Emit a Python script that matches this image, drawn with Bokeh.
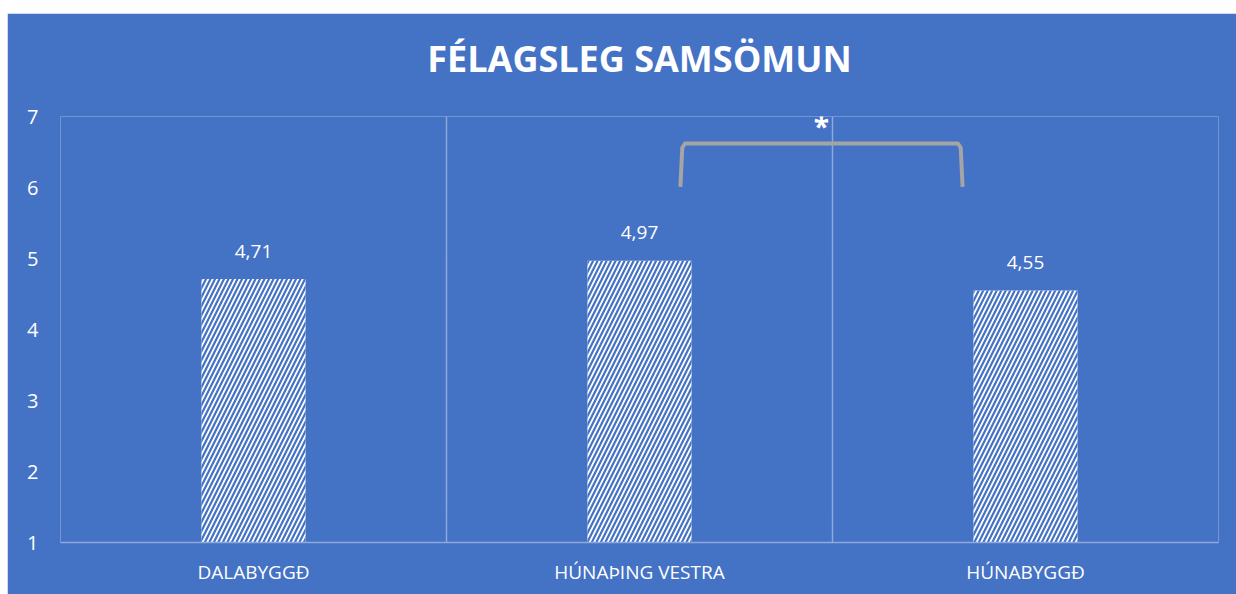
from bokeh.plotting import figure
from bokeh.models import FixedTicker, Spacer, Title
from bokeh.layouts import column, row
from bokeh.core.properties import value
from bokeh.embed import file_html
from bokeh.resources import INLINE

# ---- data ----
categories = ["DALABYGGÐ", "HÚNAÞING VESTRA", "HÚNABYGGÐ"]
means = [4.71, 4.97, 4.55]
mean_labels = ["4,71", "4,97", "4,55"]
y_ticks = [1, 2, 3, 4, 5, 6, 7]
title_text = "FÉLAGSLEG SAMSÖMUN"
sig_marker = "*"
# significance bracket between category 2 and 3 (in category units / value units)
bracket_left = 1.606
bracket_right = 2.337
bracket_bottom = 6.01
bracket_top = 6.62

BLUE = "#4472C4"
GRID = "#8EA9DB"
FONT = "Open Sans"

x_pos = [i + 0.5 for i in range(len(categories))]

p = figure(width=1229, height=581, x_range=(0, len(categories)), y_range=(1, 7),
           output_backend="svg", toolbar_location=None,
           min_border_left=53, min_border_right=18, min_border_top=103, min_border_bottom=52)

p.background_fill_color = BLUE
p.border_fill_color = BLUE
p.outline_line_color = None

p.title.text = title_text
p.title.align = "center"
p.title.text_color = "white"
p.title.text_font = FONT
p.title.text_font_size = "36px"
p.title.text_font_style = "bold"

gap_title = Title(text=" ", text_font_size="16px", text_color=BLUE)
p.above = [gap_title] + list(p.above)

# grids
p.ygrid.visible = False
p.xgrid.ticker = FixedTicker(ticks=list(range(len(categories) + 1)))
p.xgrid.grid_line_color = GRID
p.xgrid.grid_line_width = 1.5

# axes
p.xaxis.ticker = FixedTicker(ticks=x_pos)
p.xaxis.major_label_overrides = {x: c for x, c in zip(x_pos, categories)}
p.xaxis.axis_line_color = GRID
p.xaxis.axis_line_width = 1.5
p.xaxis.major_tick_line_color = None
p.xaxis.minor_tick_line_color = None
p.xaxis.major_tick_out = 0
p.xaxis.major_label_standoff = 16
p.xaxis.major_label_text_color = "white"
p.xaxis.major_label_text_font = FONT
p.xaxis.major_label_text_font_size = "19px"

p.yaxis.ticker = FixedTicker(ticks=y_ticks)
p.yaxis.axis_line_color = None
p.yaxis.major_tick_line_color = None
p.yaxis.minor_tick_line_color = None
p.yaxis.major_tick_out = 0
p.yaxis.major_label_standoff = 22
p.yaxis.major_label_text_color = "white"
p.yaxis.major_label_text_font = FONT
p.yaxis.major_label_text_font_size = "20px"

# bars
p.vbar(x=x_pos, top=means, bottom=1, width=0.27,
       fill_color="white", line_color=None,
       hatch_pattern="/", hatch_color=BLUE, hatch_scale=9, hatch_weight=2.2)

# value labels
p.text(x=x_pos, y=means, text=mean_labels, text_color="white",
       text_font=value(FONT), text_font_size="19px",
       text_align="center", text_baseline="alphabetic", y_offset=-28)

# significance bracket
dx = 0.012
dy = 0.06
bx = [bracket_left, bracket_left + dx * 0.4, bracket_left + dx, bracket_right - dx,
      bracket_right - dx * 0.4, bracket_right]
by = [bracket_bottom, bracket_top - dy, bracket_top, bracket_top, bracket_top - dy, bracket_bottom]
p.line(bx, by, line_color="#A5A5A5", line_width=4, line_join="round")

p.text(x=[(bracket_left + bracket_right) / 2], y=[bracket_top], text=[sig_marker],
       text_color="white", text_font=value(FONT), text_font_size="28px",
       text_font_style="bold", text_align="center", text_baseline="bottom", y_offset=2)

layout = column(Spacer(height=13), row(Spacer(width=7), p))
open("out.html", "w").write(file_html(layout, INLINE))
